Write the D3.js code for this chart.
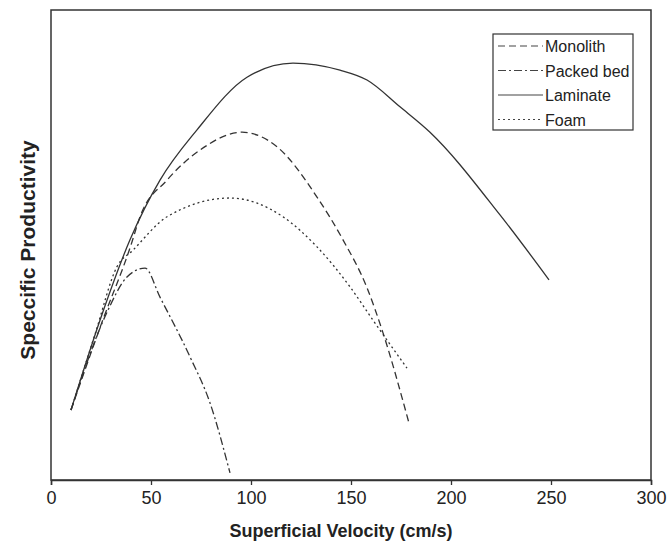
<!DOCTYPE html>
<html>
<head>
<meta charset="utf-8">
<script src="https://cdn.jsdelivr.net/npm/d3@7"></script>
<style>
  body { margin: 0; background: #fff; }
  text { font-family: "Liberation Sans", Arial, sans-serif; fill: #222; }
</style>
</head>
<body>
<div id="chart"></div>
<script>
//Datos (unidades arbitrarias en Y)
const laminateX = [10, 24.5, 39.5, 54.5, 73, 98, 121, 144.5, 158, 174.5, 189.5, 224.5, 249];
const laminateY = [14.9, 34, 51.1, 63.8, 74.5, 85.7, 88.7, 87.2, 85.1, 79.4, 74, 56.4, 42.6];

const monolithX = [10, 25, 40, 44.5, 58, 74.5, 95.5, 113, 133, 146, 158, 166, 179];
const monolithY = [14.9, 33, 50, 56, 63.8, 70.2, 74, 70.9, 60.2, 51.1, 40.9, 31.3, 12.1];

const foamX = [10, 22, 33, 41, 58, 89.5, 116, 133, 149.5, 161, 178];
const foamY = [14.9, 31, 45.4, 48.9, 56, 60, 56, 49.6, 41.1, 34, 23.8];

const packedX = [10, 28, 38, 47, 54.5, 69.5, 79.5, 89.5];
const packedY = [14.9, 35.7, 43.2, 45.1, 38.9, 26.2, 16.4, 1.5];

const xTicks = [0, 50, 100, 150, 200, 250, 300];

function zip(xs, ys) {
    return xs.map(function(x, i) { return { x: x, y: ys[i] }; });
}

const series = [
    { name: 'Monolith', values: zip(monolithX, monolithY), dash: '7,4' },
    { name: 'Packed bed', values: zip(packedX, packedY), dash: '8,3,2,3' },
    { name: 'Laminate', values: zip(laminateX, laminateY), dash: null },
    { name: 'Foam', values: zip(foamX, foamY), dash: '2,3' }
];

let margin = {top: 10, right: 16, bottom: 65, left: 51},
    width = 667 - margin.left - margin.right,
    height = 545 - margin.top - margin.bottom;

let svg = d3.select('#chart')
    .append('svg')
        .attr('width', 667)
        .attr('height', 545)
    .append('g')
        .attr('transform', 'translate(' + margin.left + ',' + margin.top + ')');

let x = d3.scaleLinear()
    .domain([0, 300])
    .range([0, width]);

let y = d3.scaleLinear()
    .domain([0, 100])
    .range([height, 0]);

//Marco
svg.append('rect')
    .attr('x', 0)
    .attr('y', 0)
    .attr('width', width)
    .attr('height', height)
    .attr('fill', 'none')
    .attr('stroke', '#333')
    .attr('stroke-width', 1.5);

let xAxis = svg.append('g')
    .attr('transform', 'translate(0,' + height + ')')
    .call(d3.axisBottom(x).tickValues(xTicks).tickSize(5).tickPadding(6).tickFormat(d3.format('d')));

xAxis.select('.domain').attr('stroke', '#333').attr('stroke-width', 1.5);
xAxis.selectAll('.tick line').attr('stroke', '#333').attr('stroke-width', 1.3);
xAxis.selectAll('.tick text')
    .style('font-size', '18px')
    .attr('fill', '#222');

//Títulos de ejes
svg.append('text')
    .attr('x', 290)
    .attr('y', height + 57)
    .attr('text-anchor', 'middle')
    .style('font-size', '18px')
    .style('font-weight', 'bold')
    .text('Superficial Velocity (cm/s)');

svg.append('text')
    .attr('transform', 'translate(' + (-16) + ',' + (height / 2 + 5) + ') rotate(-90)')
    .attr('text-anchor', 'middle')
    .style('font-size', '21px')
    .style('font-weight', 'bold')
    .text('Speccific Productivity');

let line = d3.line()
    .x(function(d) { return x(d.x); })
    .y(function(d) { return y(d.y); })
    .curve(d3.curveMonotoneX);

svg.selectAll('.serie')
    .data(series)
    .enter()
    .append('path')
        .attr('class', 'serie')
        .attr('d', function(d) { return line(d.values); })
        .attr('fill', 'none')
        .attr('stroke', '#333')
        .attr('stroke-width', 1.3)
        .attr('stroke-dasharray', function(d) { return d.dash; });

//Leyenda
let legend = svg.append('g')
    .attr('transform', 'translate(' + (493 - margin.left) + ',' + (34 - margin.top) + ')');

legend.append('rect')
    .attr('width', 140)
    .attr('height', 96)
    .attr('fill', '#fff')
    .attr('stroke', '#333')
    .attr('stroke-width', 1.2);

let items = legend.selectAll('.item')
    .data(series)
    .enter()
    .append('g')
        .attr('class', 'item')
        .attr('transform', function(d, i) { return 'translate(0,' + (12 + i * 24.5) + ')'; });

items.append('line')
    .attr('x1', 5)
    .attr('x2', 50)
    .attr('y1', 0)
    .attr('y2', 0)
    .attr('stroke', '#444')
    .attr('stroke-width', 1.2)
    .attr('stroke-dasharray', function(d) { return d.dash; });

items.append('text')
    .attr('x', 52)
    .attr('y', 6)
    .style('font-size', '16px')
    .text(function(d) { return d.name; });
</script>
</body>
</html>
